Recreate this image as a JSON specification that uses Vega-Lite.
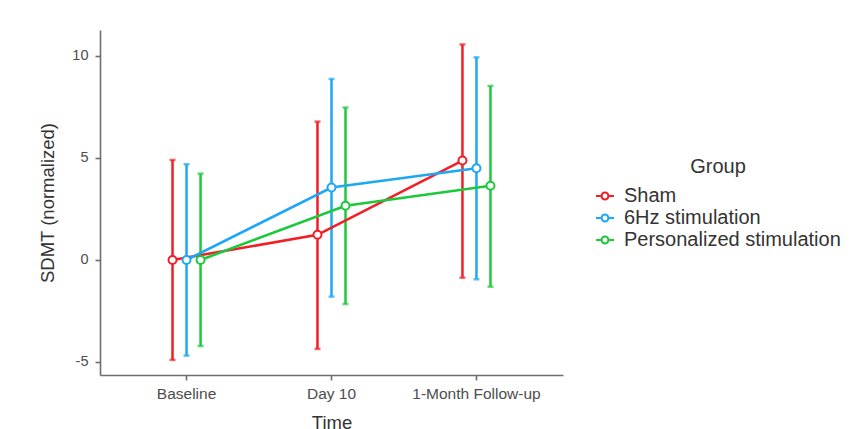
{
  "$schema": "https://vega.github.io/schema/vega-lite/v6.json",
  "autosize": {"type": "none"},
  "padding": {"left": 100, "top": 30, "right": 301, "bottom": 54},
  "width": 463,
  "height": 345,
  "background": "white",
  "config": {
    "font": "Liberation Sans",
    "view": {"stroke": null},
    "axis": {
      "grid": false,
      "domainColor": "#6e6e6e",
      "domainWidth": 1.6,
      "tickColor": "#6e6e6e",
      "tickWidth": 1.6,
      "tickSize": 5,
      "labelColor": "#4d4d4d",
      "labelFontSize": 14.5,
      "titleColor": "#333333",
      "titleFontSize": 18.5,
      "titleFontWeight": "normal"
    }
  },
  "data": {
    "values": [
      {"time": "Baseline", "group": "Sham", "mean": 0, "lo": -4.9, "hi": 4.9},
      {"time": "Baseline", "group": "6Hz stimulation", "mean": 0, "lo": -4.69, "hi": 4.69},
      {"time": "Baseline", "group": "Personalized stimulation", "mean": 0, "lo": -4.22, "hi": 4.23},
      {"time": "Day 10", "group": "Sham", "mean": 1.23, "lo": -4.36, "hi": 6.78},
      {"time": "Day 10", "group": "6Hz stimulation", "mean": 3.55, "lo": -1.8, "hi": 8.87},
      {"time": "Day 10", "group": "Personalized stimulation", "mean": 2.66, "lo": -2.16, "hi": 7.47},
      {"time": "1-Month Follow-up", "group": "Sham", "mean": 4.87, "lo": -0.87, "hi": 10.56},
      {"time": "1-Month Follow-up", "group": "6Hz stimulation", "mean": 4.49, "lo": -0.95, "hi": 9.93},
      {"time": "1-Month Follow-up", "group": "Personalized stimulation", "mean": 3.64, "lo": -1.31, "hi": 8.53}
    ]
  },
  "encoding": {
    "x": {
      "field": "time",
      "type": "nominal",
      "sort": ["Baseline", "Day 10", "1-Month Follow-up"],
      "scale": {"type": "band", "paddingInner": 0.71, "paddingOuter": 0.452},
      "axis": {"title": "Time", "labelAngle": 0, "labelFontSize": 15.5, "labelPadding": 6, "titlePadding": 12}
    },
    "xOffset": {
      "field": "group",
      "type": "nominal",
      "sort": ["Sham", "6Hz stimulation", "Personalized stimulation"],
      "scale": {"paddingInner": 0, "paddingOuter": 0}
    },
    "color": {
      "field": "group",
      "type": "nominal",
      "sort": ["Sham", "6Hz stimulation", "Personalized stimulation"],
      "scale": {
        "domain": ["Sham", "6Hz stimulation", "Personalized stimulation"],
        "range": ["#F21E26", "#1CA8F2", "#1DC93C"]
      },
      "legend": {
        "title": "Group",
        "orient": "none",
        "legendX": 495,
        "legendY": 127,
        "padding": 0,
        "titleAnchor": "middle",
        "titleFontSize": 20,
        "titleFontWeight": "normal",
        "titleColor": "#333333",
        "titlePadding": 9,
        "labelFontSize": 20,
        "labelColor": "#333333",
        "labelOffset": 9,
        "labelLimit": 400,
        "rowPadding": 2,
        "symbolType": "M-1,0L-0.38,0M0.38,0L1,0M0.38,0A0.38,0.38,0,1,1,-0.38,0A0.38,0.38,0,1,1,0.38,0Z",
        "symbolSize": 324,
        "symbolStrokeWidth": 2,
        "symbolOpacity": 1,
        "symbolFillColor": "white",
        "encode": {
          "symbols": {
            "update": {
              "fill": {"value": "white"},
              "fillOpacity": {"value": 1},
              "opacity": {"value": 1},
              "strokeWidth": {"value": 2}
            }
          }
        }
      }
    }
  },
  "layer": [
    {
      "mark": {"type": "rule", "strokeWidth": 2.5},
      "encoding": {
        "y": {
          "field": "lo",
          "type": "quantitative",
          "scale": {"domain": [-5.64, 11.27], "nice": false, "zero": false},
          "axis": {
            "title": "SDMT (normalized)",
            "values": [-5, 0, 5, 10],
            "labelExpr": "datum.value + ''",
            "labelPadding": 7,
            "titlePadding": 14
          }
        },
        "y2": {"field": "hi"}
      }
    },
    {
      "mark": {"type": "tick", "filled": false, "size": 4, "thickness": 0.5, "strokeWidth": 2},
      "encoding": {"y": {"field": "lo", "type": "quantitative"}}
    },
    {
      "mark": {"type": "tick", "filled": false, "size": 4, "thickness": 0.5, "strokeWidth": 2},
      "encoding": {"y": {"field": "hi", "type": "quantitative"}}
    },
    {
      "mark": {"type": "line", "strokeWidth": 2.6},
      "encoding": {"y": {"field": "mean", "type": "quantitative"}}
    },
    {
      "mark": {"type": "point", "filled": false, "fill": "white", "fillOpacity": 1, "opacity": 1, "size": 64, "strokeWidth": 2},
      "encoding": {"y": {"field": "mean", "type": "quantitative"}}
    }
  ]
}
